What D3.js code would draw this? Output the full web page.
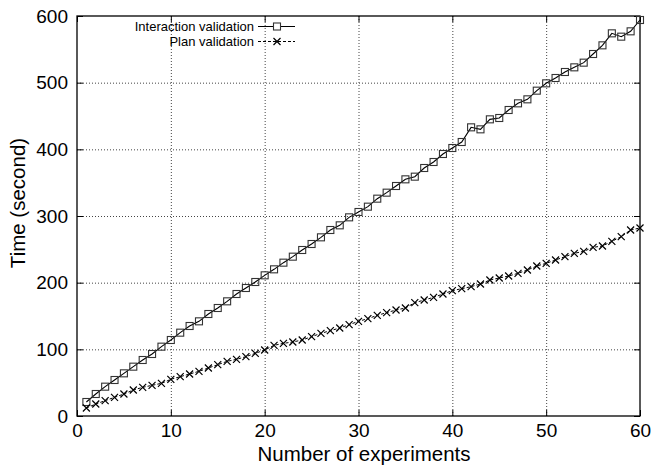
<!DOCTYPE html>
<html>
<head>
<meta charset="utf-8">
<script src="https://cdn.jsdelivr.net/npm/d3@7"></script>
<style>
  body { margin: 0; background: #fff; }
  text { font-family: "Liberation Sans", Arial, sans-serif; fill: #000; }
</style>
</head>
<body>
<div id="chart"></div>
<script>
// Experiment numbers 1..60
const experiments = [1,2,3,4,5,6,7,8,9,10,11,12,13,14,15,16,17,18,19,20,
  21,22,23,24,25,26,27,28,29,30,31,32,33,34,35,36,37,38,39,40,
  41,42,43,44,45,46,47,48,49,50,51,52,53,54,55,56,57,58,59,60];

// Time (seconds)
const interactionValidation = [21,33,44,54,64,74,84,93,104,114,
  125,135,142,153,162,172,183,192,201,211,
  220,230,239,249,258,268,279,286,298,306,
  314,326,335,345,355,359,372,381,393,402,
  411,433,430,445,447,459,469,475,488,499,
  507,516,523,530,543,556,574,569,577,594];

const planValidation = [12,18,23,28,33,39,43,46,49,55,
  59,63,67,72,77,82,85,89,94,99,
  106,109,111,114,119,124,128,132,137,142,
  146,151,155,159,162,170,174,178,183,188,
  191,194,198,204,207,210,214,219,225,229,
  234,239,244,247,253,255,262,269,279,282];

const xTicks = [0,10,20,30,40,50,60];
const yTicks = [0,100,200,300,400,500,600];

const width = 653, height = 466;
const margin = {top: 16, right: 13, bottom: 50, left: 77};

const svg = d3.select("#chart").append("svg")
    .attr("width", width)
    .attr("height", height);

const x = d3.scaleLinear().domain([0, 60]).range([margin.left, width - margin.right]);
const y = d3.scaleLinear().domain([0, 600]).range([height - margin.bottom, margin.top]);

// Dotted grid
const grid = svg.append("g").attr("stroke", "#444").attr("stroke-width", 1)
    .attr("stroke-dasharray", "1,2");
grid.selectAll("line.gx")
    .data(xTicks.filter(d => d > 0 && d < 60))
    .join("line")
    .attr("x1", d => x(d) + 0.5).attr("x2", d => x(d) + 0.5)
    .attr("y1", y(600)).attr("y2", y(0));
grid.selectAll("line.gy")
    .data(yTicks.filter(d => d > 0 && d < 600))
    .join("line")
    .attr("y1", d => y(d) + 0.5).attr("y2", d => y(d) + 0.5)
    .attr("x1", x(0)).attr("x2", x(60));

// Axes with ticks mirrored inside the frame (gnuplot style)
const fmt = d3.format("d");
svg.append("g")
    .attr("transform", `translate(0,${y(0)})`)
    .call(d3.axisBottom(x).tickValues(xTicks).tickSizeInner(-6).tickSizeOuter(0).tickPadding(8).tickFormat(fmt))
    .call(g => g.selectAll("text").attr("font-size", 19).attr("font-family", "Liberation Sans, Arial, sans-serif"));
svg.append("g")
    .attr("transform", `translate(0,${y(600)})`)
    .call(d3.axisTop(x).tickValues(xTicks).tickSizeInner(-6).tickSizeOuter(0).tickFormat(""));
svg.append("g")
    .attr("transform", `translate(${x(0)},0)`)
    .call(d3.axisLeft(y).tickValues(yTicks).tickSizeInner(-6).tickSizeOuter(0).tickPadding(9).tickFormat(fmt))
    .call(g => g.selectAll("text").attr("font-size", 19).attr("font-family", "Liberation Sans, Arial, sans-serif"));
svg.append("g")
    .attr("transform", `translate(${x(60)},0)`)
    .call(d3.axisRight(y).tickValues(yTicks).tickSizeInner(-6).tickSizeOuter(0).tickFormat(""));
svg.selectAll(".domain").remove();
svg.selectAll(".tick line").attr("stroke", "#000");

// Frame
svg.append("rect")
    .attr("x", x(0)).attr("y", y(600))
    .attr("width", x(60) - x(0)).attr("height", y(0) - y(600))
    .attr("fill", "none").attr("stroke", "#000").attr("stroke-width", 1.3);

// Axis titles
svg.append("text")
    .attr("x", 364).attr("y", 461)
    .attr("text-anchor", "middle").attr("font-size", 20.5)
    .text("Number of experiments");
svg.append("text")
    .attr("transform", `translate(25,203) rotate(-90)`)
    .attr("text-anchor", "middle").attr("font-size", 20.5)
    .text("Time (second)");

const line = d3.line().x((d, i) => x(experiments[i])).y(d => y(d));

// Interaction validation: solid line with squares
svg.append("path")
    .datum(interactionValidation)
    .attr("fill", "none").attr("stroke", "#000").attr("stroke-width", 1.1)
    .attr("d", line);
svg.append("g").selectAll("rect")
    .data(interactionValidation)
    .join("rect")
    .attr("x", (d, i) => x(experiments[i]) - 3.5)
    .attr("y", d => y(d) - 3.5)
    .attr("width", 7).attr("height", 7)
    .attr("fill", "none").attr("stroke", "#333").attr("stroke-width", 1.1);

// Plan validation: dashed line with x marks
svg.append("path")
    .datum(planValidation)
    .attr("fill", "none").attr("stroke", "#000").attr("stroke-width", 1)
    .attr("stroke-dasharray", "3,2")
    .attr("d", line);
svg.append("g").selectAll("path")
    .data(planValidation)
    .join("path")
    .attr("d", "M-3.5,-3.5L3.5,3.5M-3.5,3.5L3.5,-3.5")
    .attr("transform", (d, i) => `translate(${x(experiments[i])},${y(d)})`)
    .attr("fill", "none").attr("stroke", "#000").attr("stroke-width", 1.2);

// Legend
const legend = svg.append("g");
legend.append("text").attr("x", 254).attr("y", 30.5)
    .attr("text-anchor", "end").attr("font-size", 13).text("Interaction validation");
legend.append("line").attr("x1", 258).attr("x2", 295).attr("y1", 26.5).attr("y2", 26.5)
    .attr("stroke", "#000").attr("stroke-width", 1.1);
legend.append("rect").attr("x", 273.5).attr("y", 23).attr("width", 7).attr("height", 7)
    .attr("fill", "#fff").attr("stroke", "#333").attr("stroke-width", 1.1);
legend.append("text").attr("x", 254).attr("y", 45.5)
    .attr("text-anchor", "end").attr("font-size", 13).text("Plan validation");
legend.append("line").attr("x1", 258).attr("x2", 295).attr("y1", 41.5).attr("y2", 41.5)
    .attr("stroke", "#000").attr("stroke-width", 1).attr("stroke-dasharray", "3,2");
legend.append("path").attr("d", "M273.5,38L280.5,45M273.5,45L280.5,38")
    .attr("fill", "none").attr("stroke", "#000").attr("stroke-width", 1.2);
</script>
</body>
</html>
